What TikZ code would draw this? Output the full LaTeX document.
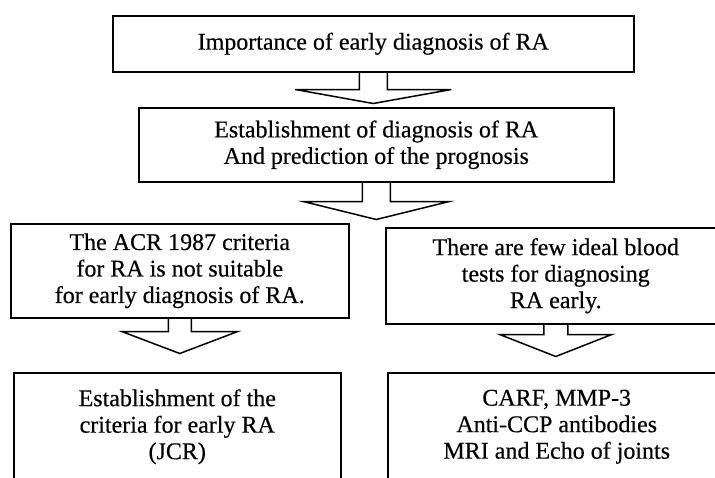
\documentclass[tikz,border=0pt]{standalone}
\usepackage{fontspec}
\setmainfont{Liberation Serif}
\newfontfamily\boxfont{Liberation Serif}[FakeBold=0.4]
\begin{document}
\begin{tikzpicture}[x=1pt,y=-1pt,
  box/.style={draw, line width=1.5pt, align=center, inner sep=0pt, anchor=north west,
    font=\boxfont\fontsize{24}{26.5}\selectfont},
  barrow/.style={draw, line width=1.5pt, line join=miter}]
\useasboundingbox (0,0) rectangle (715,477);
\clip (0,0) rectangle (715,477);
\fill[white] (0,0) rectangle (715,477);
% boxes
\node[box, minimum width=521pt, minimum height=56pt] (b1) at (112,15)
  {Importance of early diagnosis of RA};
\node[box, minimum width=475pt, minimum height=74pt] (b2) at (138,107)
  {Establishment of diagnosis of RA\\And prediction of the prognosis};
\node[box, minimum width=338pt, minimum height=94pt] (b3) at (10,223)
  {The ACR 1987 criteria\\for RA is not suitable\\for early diagnosis of RA.};
\node[box, minimum width=340pt, minimum height=96pt] (b4) at (385,227)
  {There are few ideal blood\\tests for diagnosing\\RA early.};
\node[box, minimum width=327pt, minimum height=108pt] (b5) at (13,372)
  {Establishment of the\\criteria for early RA\\(JCR)};
\node[box, minimum width=338pt, minimum height=108pt] (b6) at (387,372)
  {CARF, MMP-3\\Anti-CCP antibodies\\MRI and Echo of joints};
% open block arrows
\draw[barrow] ([shift={(-14,0)}]b1.south) -- ++(0,17) -- ++(-64,0)
  -- ([shift={(0,31)}]b1.south) -- ([shift={(78,17)}]b1.south)
  -- ([shift={(14,17)}]b1.south) -- ([shift={(14,0)}]b1.south);
\draw[barrow] ([shift={(-14,0)}]b2.south) -- ++(0,19) -- ++(-59,0)
  -- ([shift={(0,37)}]b2.south) -- ([shift={(73,19)}]b2.south)
  -- ([shift={(14,19)}]b2.south) -- ([shift={(14,0)}]b2.south);
\draw[barrow] ([shift={(-11.5,0)}]b3.south) -- ++(0,13) -- ++(-46.5,0)
  -- ([shift={(0,35)}]b3.south) -- ([shift={(58,13)}]b3.south)
  -- ([shift={(11.5,13)}]b3.south) -- ([shift={(11.5,0)}]b3.south);
\draw[barrow] ([shift={(-12,0)}]b4.south) -- ++(0,10) -- ++(-44,0)
  -- ([shift={(0,32)}]b4.south) -- ([shift={(56,10)}]b4.south)
  -- ([shift={(12,10)}]b4.south) -- ([shift={(12,0)}]b4.south);
\end{tikzpicture}
\end{document}
